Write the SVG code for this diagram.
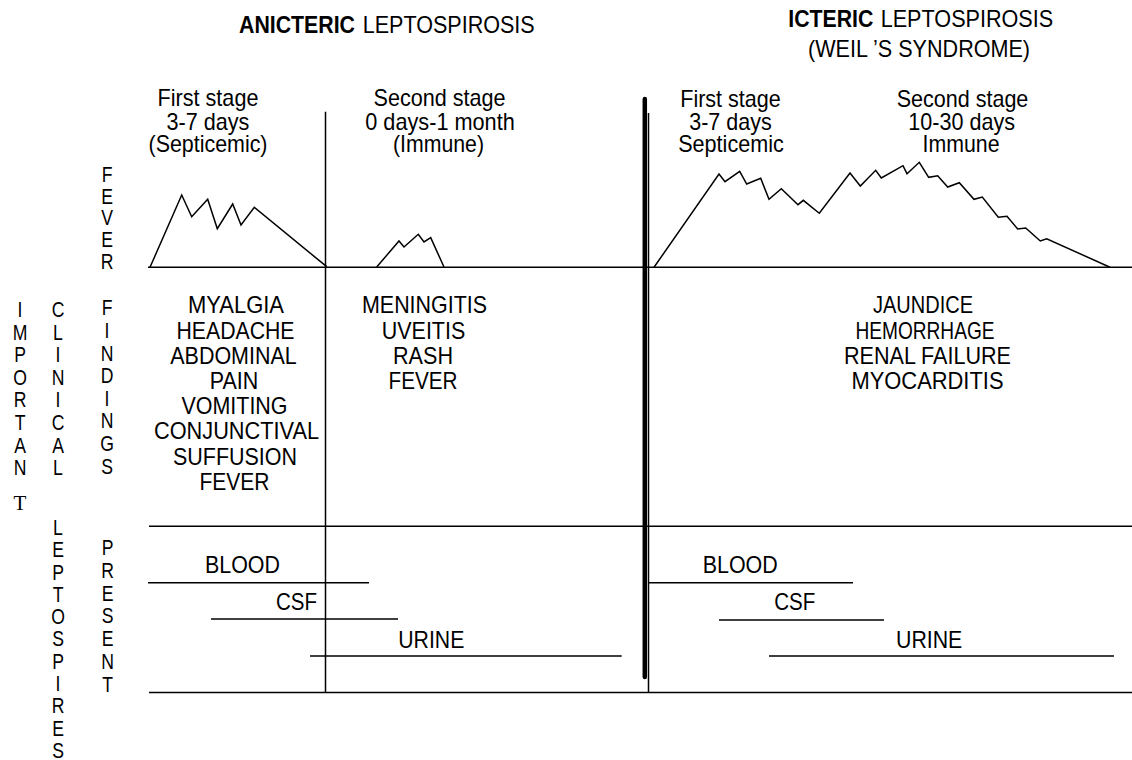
<svg xmlns="http://www.w3.org/2000/svg" width="1132" height="760" viewBox="0 0 1132 760">
<style>
.t{font-family:"Liberation Sans",Arial,sans-serif;font-size:24px;fill:#000}
.b{font-weight:bold}
.m{text-anchor:middle}
.v{font-family:"Liberation Sans",Arial,sans-serif;font-size:22px;fill:#000;text-anchor:middle}
.ln{stroke:#000;stroke-width:1.5;fill:none}
.cv{stroke:#000;stroke-width:1.5;fill:none;stroke-linejoin:miter}
</style>
<rect width="1132" height="760" fill="#fff"/>

<g id="header-anicteric">
<text class="t b" x="239" y="33" textLength="116" lengthAdjust="spacingAndGlyphs">ANICTERIC</text>
<text class="t" x="362.7" y="33" textLength="172" lengthAdjust="spacingAndGlyphs">LEPTOSPIROSIS</text>
</g>
<g id="header-icteric">
<text class="t b" x="788.3" y="27.3" textLength="85" lengthAdjust="spacingAndGlyphs">ICTERIC</text>
<text class="t" x="880.7" y="27.3" textLength="172.5" lengthAdjust="spacingAndGlyphs">LEPTOSPIROSIS</text>
<text class="t m" x="919" y="57" textLength="222" lengthAdjust="spacingAndGlyphs">(WEIL ’S SYNDROME)</text>
</g>

<g id="stage-anicteric-first">
<text class="t m" x="208" y="106" textLength="100.8" lengthAdjust="spacingAndGlyphs">First stage</text>
<text class="t m" x="208" y="130" textLength="82.8" lengthAdjust="spacingAndGlyphs">3-7 days</text>
<text class="t m" x="208" y="152" textLength="119" lengthAdjust="spacingAndGlyphs">(Septicemic)</text>
</g>
<g id="stage-anicteric-second">
<text class="t m" x="439.5" y="106" textLength="132" lengthAdjust="spacingAndGlyphs">Second stage</text>
<text class="t m" x="440" y="130" textLength="149.5" lengthAdjust="spacingAndGlyphs">0 days-1 month</text>
<text class="t m" x="438.5" y="152" textLength="91" lengthAdjust="spacingAndGlyphs">(Immune)</text>
</g>
<g id="stage-icteric-first">
<text class="t m" x="730.5" y="106.5" textLength="100.5" lengthAdjust="spacingAndGlyphs">First stage</text>
<text class="t m" x="730.5" y="130" textLength="82.5" lengthAdjust="spacingAndGlyphs">3-7 days</text>
<text class="t m" x="731" y="152" textLength="105.6" lengthAdjust="spacingAndGlyphs">Septicemic</text>
</g>
<g id="stage-icteric-second">
<text class="t m" x="962.5" y="106.5" textLength="131.7" lengthAdjust="spacingAndGlyphs">Second stage</text>
<text class="t m" x="961.7" y="130" textLength="106.7" lengthAdjust="spacingAndGlyphs">10-30 days</text>
<text class="t m" x="961" y="152" textLength="77" lengthAdjust="spacingAndGlyphs">Immune</text>
</g>

<g id="axis-labels">
<g transform="translate(107,0) scale(0.8,1)">
<text class="v" x="0" y="181.7">F</text><text class="v" x="0" y="203.6">E</text><text class="v" x="0" y="225.5">V</text><text class="v" x="0" y="247.4">E</text><text class="v" x="0" y="269.3">R</text>
</g>
<g transform="translate(20,0) scale(0.8,1)">
<text class="v" x="0" y="317">I</text><text class="v" x="0" y="339.6">M</text><text class="v" x="0" y="362.2">P</text><text class="v" x="0" y="384.8">O</text><text class="v" x="0" y="407.4">R</text><text class="v" x="0" y="430">T</text><text class="v" x="0" y="452.6">A</text><text class="v" x="0" y="475.2">N</text>
</g>
<text x="20" y="510" style="font-family:'Liberation Serif','Times New Roman',serif;font-size:21px;text-anchor:middle;fill:#000">T</text>
<g transform="translate(58,0) scale(0.8,1)">
<text class="v" x="0" y="317">C</text><text class="v" x="0" y="339.6">L</text><text class="v" x="0" y="362.2">I</text><text class="v" x="0" y="384.8">N</text><text class="v" x="0" y="407.4">I</text><text class="v" x="0" y="430">C</text><text class="v" x="0" y="452.6">A</text><text class="v" x="0" y="475.2">L</text>
</g>
<g transform="translate(107,0) scale(0.8,1)">
<text class="v" x="0" y="315.5">F</text><text class="v" x="0" y="338.1">I</text><text class="v" x="0" y="360.7">N</text><text class="v" x="0" y="383.3">D</text><text class="v" x="0" y="405.9">I</text><text class="v" x="0" y="428.5">N</text><text class="v" x="0" y="451.1">G</text><text class="v" x="0" y="473.7">S</text>
</g>
<g transform="translate(58,0) scale(0.8,1)">
<text class="v" x="0" y="535">L</text><text class="v" x="0" y="557.3">E</text><text class="v" x="0" y="579.6">P</text><text class="v" x="0" y="601.9">T</text><text class="v" x="0" y="624.2">O</text><text class="v" x="0" y="646.5">S</text><text class="v" x="0" y="668.8">P</text><text class="v" x="0" y="691.1">I</text><text class="v" x="0" y="713.4">R</text><text class="v" x="0" y="735.7">E</text><text class="v" x="0" y="758">S</text>
</g>
<g transform="translate(107.5,0) scale(0.8,1)">
<text class="v" x="0" y="555">P</text><text class="v" x="0" y="577.8">R</text><text class="v" x="0" y="600.6">E</text><text class="v" x="0" y="623.4">S</text><text class="v" x="0" y="646.2">E</text><text class="v" x="0" y="669">N</text><text class="v" x="0" y="691.8">T</text>
</g>
</g>

<g id="findings-anicteric-first">
<text class="t m" x="236" y="313.3" textLength="96" lengthAdjust="spacingAndGlyphs">MYALGIA</text>
<text class="t m" x="235.5" y="338.5" textLength="118" lengthAdjust="spacingAndGlyphs">HEADACHE</text>
<text class="t m" x="233.5" y="363.6" textLength="126.5" lengthAdjust="spacingAndGlyphs">ABDOMINAL</text>
<text class="t m" x="234" y="388.8" textLength="48.5" lengthAdjust="spacingAndGlyphs">PAIN</text>
<text class="t m" x="234.5" y="414" textLength="106" lengthAdjust="spacingAndGlyphs">VOMITING</text>
<text class="t m" x="236.5" y="439.3" textLength="165" lengthAdjust="spacingAndGlyphs">CONJUNCTIVAL</text>
<text class="t m" x="235" y="464.6" textLength="124" lengthAdjust="spacingAndGlyphs">SUFFUSION</text>
<text class="t m" x="234.5" y="490" textLength="70" lengthAdjust="spacingAndGlyphs">FEVER</text>
</g>
<g id="findings-anicteric-second">
<text class="t m" x="424.5" y="313.3" textLength="125" lengthAdjust="spacingAndGlyphs">MENINGITIS</text>
<text class="t m" x="423.5" y="338.5" textLength="83.5" lengthAdjust="spacingAndGlyphs">UVEITIS</text>
<text class="t m" x="423" y="363.6" textLength="60" lengthAdjust="spacingAndGlyphs">RASH</text>
<text class="t m" x="423" y="388.8" textLength="69" lengthAdjust="spacingAndGlyphs">FEVER</text>
</g>
<g id="findings-icteric">
<text class="t m" x="923" y="313.3" textLength="100" lengthAdjust="spacingAndGlyphs">JAUNDICE</text>
<text class="t m" x="925" y="338.5" textLength="139" lengthAdjust="spacingAndGlyphs">HEMORRHAGE</text>
<text class="t m" x="927.5" y="363.6" textLength="167" lengthAdjust="spacingAndGlyphs">RENAL FAILURE</text>
<text class="t m" x="927.5" y="388.8" textLength="152" lengthAdjust="spacingAndGlyphs">MYOCARDITIS</text>
</g>

<g id="leptospires-anicteric">
<text class="t" x="205" y="573.3" textLength="75" lengthAdjust="spacingAndGlyphs">BLOOD</text>
<text class="t" x="276" y="609.8" textLength="41" lengthAdjust="spacingAndGlyphs">CSF</text>
<text class="t" x="398.3" y="647.5" textLength="66" lengthAdjust="spacingAndGlyphs">URINE</text>
</g>
<g id="leptospires-icteric">
<text class="t" x="702.7" y="573" textLength="75" lengthAdjust="spacingAndGlyphs">BLOOD</text>
<text class="t" x="774.3" y="610" textLength="41" lengthAdjust="spacingAndGlyphs">CSF</text>
<text class="t" x="896" y="647.5" textLength="66.3" lengthAdjust="spacingAndGlyphs">URINE</text>
</g>

<g id="fever-curves">
<polyline class="cv" points="150,267.3 181.7,195 191.7,216.7 207.7,199.3 217.3,228.7 232.7,204 241,225 254.3,207.3 326.7,266.7"/>
<polyline class="cv" points="376.7,267 399,241 404,247 418.3,234.3 424,242 430.7,237.7 444,267"/>
<polyline class="cv" points="654,267.3 719,174 725,181.7 739.7,171.3 746.7,184 760.7,178.3 769,199.3 781.3,188.7 798,204.7 803.3,200.3 819.3,213.3 850,173 860.3,186 875.7,170.3 881.3,178 903,165.7 907,173.7 919.3,162.3 928.7,177.3 937.7,175.7 947.7,187 959.3,182.7 974,199.3 982.3,197 998.3,217.3 1007,216.3 1017.7,229 1025.7,228 1040.3,241 1046.7,238.7 1110,267.3"/>
</g>

<g id="connectors">
<line class="ln" x1="148" y1="267.3" x2="1132" y2="267.3"/>
<line class="ln" x1="149" y1="526.3" x2="1132" y2="526.3"/>
<line class="ln" x1="149" y1="692.6" x2="1132" y2="692.6"/>
<line class="ln" x1="325.5" y1="111.7" x2="325.5" y2="692.6"/>
<line class="ln" x1="648.5" y1="113" x2="648.5" y2="692.6"/>
<line x1="644.8" y1="99" x2="644.8" y2="677" stroke="#000" stroke-width="4.5" stroke-linecap="round"/>
<line class="ln" x1="148" y1="582.7" x2="369" y2="582.7"/>
<line class="ln" x1="211" y1="619" x2="398" y2="619"/>
<line class="ln" x1="310" y1="656" x2="621.7" y2="656"/>
<line class="ln" x1="648" y1="582.7" x2="853" y2="582.7"/>
<line class="ln" x1="719" y1="620" x2="884" y2="620"/>
<line class="ln" x1="769" y1="656" x2="1114" y2="656"/>
</g>
</svg>
